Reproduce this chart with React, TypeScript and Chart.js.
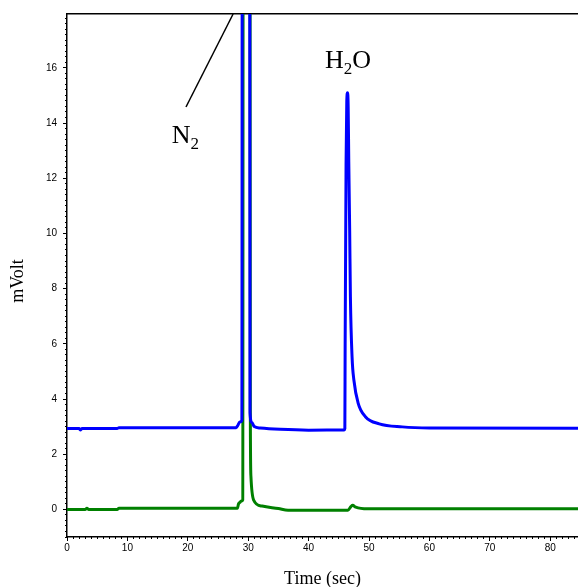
import React, { useEffect, useRef } from 'react';
import { Chart, registerables } from 'chart.js';

Chart.register(...registerables);

// ---- Data ----
const blueTime = [0, 2.0, 2.2, 2.5, 8.3, 8.6, 28.0, 28.3, 28.6, 28.95, 29.05, 30.2, 30.3, 30.6, 31.0, 32.0, 35.3, 40.0, 45.9, 46.0, 46.05, 46.2, 46.32, 46.45, 46.55, 46.65, 46.8, 46.92, 47.2, 47.5, 48.2, 49.4, 51.7, 55.5, 60.0, 84.6];
const blueSignal = [2.93, 2.93, 2.88, 2.93, 2.93, 2.96, 2.96, 3.05, 3.17, 3.22, 40, 40, 3.5, 3.15, 3.0, 2.95, 2.9, 2.87, 2.88, 2.93, 6.0, 12.5, 14.8, 15.1, 14.6, 12.6, 10.1, 7.7, 5.5, 4.68, 3.85, 3.36, 3.1, 2.99, 2.95, 2.94];

const greenTime = [0, 3.0, 3.3, 3.6, 8.3, 8.6, 28.2, 28.4, 28.6, 28.9, 29.1, 29.2, 30.25, 30.35, 30.45, 30.9, 32.3, 35.0, 36.6, 46.5, 47.0, 47.3, 47.8, 49.8, 84.6];
const greenSignal = [0.0, 0.0, 0.04, 0.0, 0.0, 0.04, 0.04, 0.2, 0.25, 0.3, 0.35, 40, 40, 3.6, 1.2, 0.34, 0.12, 0.03, -0.03, -0.03, 0.1, 0.15, 0.08, 0.02, 0.02];

const xTickLabels = [0, 10, 20, 30, 40, 50, 60, 70, 80];
const yTickLabels = [0, 2, 4, 6, 8, 10, 12, 14, 16];

const X_MIN = 0;
const X_MAX = 84.6;
const Y_MIN = -1;
const Y_MAX = 17.95;
const X_MINOR_STEP = 1;
const Y_MINOR_STEP = 0.2;

// annotation anchors (data coordinates)
const N2_LABEL = { x: 17.33, y: 13.26 };
const N2_LINE_FROM = { x: 19.7, y: 14.58 };
const N2_LINE_TO = { x: 27.5, y: 17.95 };
const H2O_LABEL = { x: 42.7, y: 16.0 };

function minorTicks(min: number, max: number, step: number) {
  const out: { value: number }[] = [];
  const n = Math.floor((max - min) / step + 1e-9);
  for (let i = 0; i <= n; i++) out.push({ value: +(min + i * step).toFixed(4) });
  return out;
}

function toPoints(xs: number[], ys: number[]) {
  return xs.map((x, i) => ({ x, y: ys[i] }));
}

const annotationPlugin = {
  id: 'annotations',
  afterDraw(chart: any) {
    const { ctx, scales } = chart;
    const xs = scales.x;
    const ys = scales.y;
    ctx.save();
    // N2 leader line
    ctx.strokeStyle = '#000';
    ctx.lineWidth = 1.5;
    ctx.beginPath();
    ctx.moveTo(xs.getPixelForValue(N2_LINE_FROM.x), ys.getPixelForValue(N2_LINE_FROM.y));
    ctx.lineTo(xs.getPixelForValue(N2_LINE_TO.x), ys.getPixelForValue(N2_LINE_TO.y));
    ctx.stroke();

    const big = '26px "Liberation Serif", "Times New Roman", serif';
    const small = '17px "Liberation Serif", "Times New Roman", serif';
    ctx.fillStyle = '#000';
    ctx.textBaseline = 'alphabetic';
    ctx.textAlign = 'left';

    const drawChem = (parts: [string, boolean][], px: number, py: number) => {
      let cx = px;
      for (const [t, sub] of parts) {
        ctx.font = sub ? small : big;
        ctx.fillText(t, cx, sub ? py + 6 : py);
        cx += ctx.measureText(t).width;
      }
    };
    drawChem([['N', false], ['2', true]], xs.getPixelForValue(N2_LABEL.x), ys.getPixelForValue(N2_LABEL.y));
    drawChem([['H', false], ['2', true], ['O', false]], xs.getPixelForValue(H2O_LABEL.x), ys.getPixelForValue(H2O_LABEL.y));

    // y axis title
    ctx.translate(18, 281);
    ctx.rotate(-Math.PI / 2);
    ctx.font = '18px "Liberation Serif", "Times New Roman", serif';
    ctx.textAlign = 'center';
    ctx.textBaseline = 'middle';
    ctx.fillText('mVolt', 0, 0);
    ctx.restore();
  },
};

export default function App() {
  const ref = useRef<HTMLCanvasElement | null>(null);

  useEffect(() => {
    if (!ref.current) return;
    const tickFont = { family: '"Liberation Sans", Arial, sans-serif', size: 10 };
    const chart = new Chart(ref.current, {
      type: 'line',
      data: {
        datasets: [
          {
            label: 'TCD (blue)',
            data: toPoints(blueTime, blueSignal),
            borderColor: '#0000ff',
            borderWidth: 3,
            pointRadius: 0,
            cubicInterpolationMode: 'monotone',
            fill: false,
          },
          {
            label: 'TCD (green)',
            data: toPoints(greenTime, greenSignal),
            borderColor: '#008000',
            borderWidth: 3,
            pointRadius: 0,
            cubicInterpolationMode: 'monotone',
            fill: false,
          },
        ],
      },
      options: {
        animation: false,
        responsive: false,
        layout: { padding: { top: 14, left: 0, right: 0, bottom: 0 } },
        plugins: {
          legend: { display: false },
          tooltip: { enabled: false },
        },
        scales: {
          x: {
            type: 'linear',
            position: 'bottom',
            weight: 1,
            min: X_MIN,
            max: X_MAX,
            afterBuildTicks: (s: any) => { s.ticks = xTickLabels.map((v) => ({ value: v })); },
            afterFit: (s: any) => { s.height = 50; },
            ticks: { font: tickFont, color: '#000', padding: 1, autoSkip: false, maxRotation: 0, callback: (v: any) => String(v) },
            grid: { drawOnChartArea: false, drawTicks: true, tickLength: 4, tickColor: '#000', tickWidth: 1 },
            border: { display: true, color: '#000', width: 1.5 },
            title: {
              display: true,
              text: 'Time (sec)',
              color: '#000',
              font: { family: '"Liberation Serif", "Times New Roman", serif', size: 18, lineHeight: 1 },
              padding: { top: 0, bottom: -1 },
            },
          },
          xMinor: {
            type: 'linear',
            position: 'bottom',
            weight: 0,
            min: X_MIN,
            max: X_MAX,
            afterBuildTicks: (s: any) => { s.ticks = minorTicks(X_MIN, X_MAX, X_MINOR_STEP); },
            afterFit: (s: any) => { s.height = 0; },
            ticks: { display: false },
            grid: { drawOnChartArea: false, drawTicks: true, tickLength: 2, tickColor: '#000', tickWidth: 1 },
            border: { display: false },
          },
          xTop: {
            type: 'linear',
            position: 'top',
            min: X_MIN,
            max: X_MAX,
            afterFit: (s: any) => { s.height = 0; },
            ticks: { display: false },
            grid: { display: false },
            border: { display: true, color: '#000', width: 1.5 },
          },
          y: {
            type: 'linear',
            position: 'left',
            weight: 1,
            min: Y_MIN,
            max: Y_MAX,
            afterBuildTicks: (s: any) => { s.ticks = yTickLabels.map((v) => ({ value: v })); },
            afterFit: (s: any) => { s.width = 67; },
            ticks: { font: tickFont, color: '#000', padding: 6, autoSkip: false, callback: (v: any) => String(v) },
            grid: { drawOnChartArea: false, drawTicks: true, tickLength: 4, tickColor: '#000', tickWidth: 1 },
            border: { display: true, color: '#000', width: 1.5 },
          },
          yMinor: {
            type: 'linear',
            position: 'left',
            weight: 0,
            min: Y_MIN,
            max: Y_MAX,
            afterBuildTicks: (s: any) => { s.ticks = minorTicks(Y_MIN, Y_MAX, Y_MINOR_STEP); },
            afterFit: (s: any) => { s.width = 0; },
            ticks: { display: false },
            grid: { drawOnChartArea: false, drawTicks: true, tickLength: 2, tickColor: '#000', tickWidth: 1 },
            border: { display: false },
          },
        },
      } as any,
      plugins: [annotationPlugin],
    });
    return () => chart.destroy();
  }, []);

  return (
    <div style={{ position: 'fixed', left: 0, top: 0, width: 578, height: 587, background: '#fff' }}>
      <canvas ref={ref} width={578} height={587} style={{ display: 'block' }} />
    </div>
  );
}
